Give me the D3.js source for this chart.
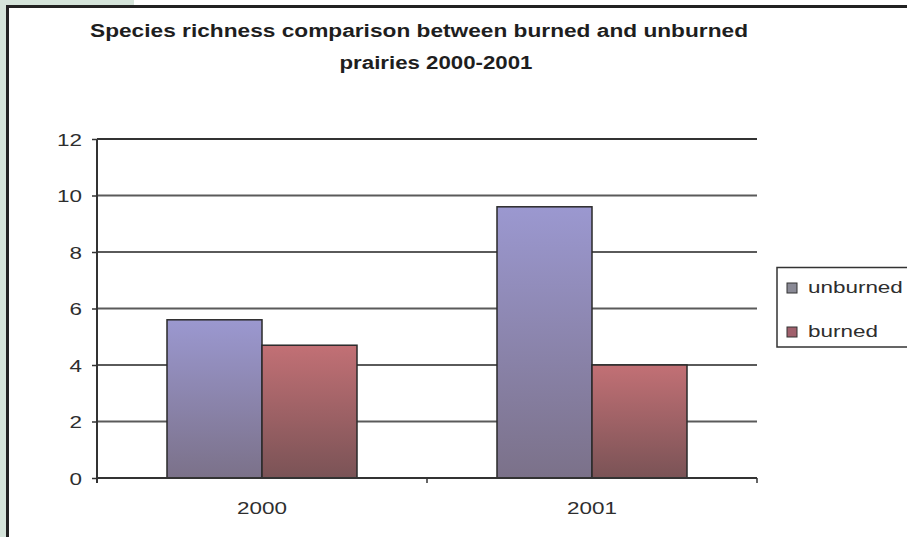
<!DOCTYPE html>
<html><head><meta charset="utf-8">
<script src="https://cdn.jsdelivr.net/npm/d3@7"></script>
<style>
html,body{margin:0;padding:0;background:#fff;}
svg{display:block;}
text{font-family:"Liberation Sans",Arial,sans-serif;}
</style></head>
<body>
<script>
const categories = ["2000", "2001"];
const seriesNames = ["unburned", "burned"];
const unburned = [5.6, 9.6];
const burned = [4.7, 4.0];
const yTicks = [0, 2, 4, 6, 8, 10, 12];
const titleLines = ["Species richness comparison between burned and unburned", "prairies 2000-2001"];

const W = 907, H = 537;
const svg = d3.select("body").append("svg").attr("width", W).attr("height", H);

// background frame
svg.append("rect").attr("x", 0).attr("y", 0).attr("width", 7).attr("height", H).attr("fill", "#d5e4da");
svg.append("rect").attr("x", 0).attr("y", 0).attr("width", 134).attr("height", 6).attr("fill", "#d5e4da");
svg.append("line").attr("x1", 7.5).attr("x2", 7.5).attr("y1", 6).attr("y2", H).attr("stroke", "#222").attr("stroke-width", 3);
svg.append("line").attr("x1", 6).attr("x2", W).attr("y1", 6.5).attr("y2", 6.5).attr("stroke", "#222").attr("stroke-width", 3);

const defs = svg.append("defs");
function grad(id, top, bottom) {
  const g = defs.append("linearGradient").attr("id", id).attr("x1", 0).attr("y1", 0).attr("x2", 0).attr("y2", 1);
  g.append("stop").attr("offset", "0%").attr("stop-color", top);
  g.append("stop").attr("offset", "100%").attr("stop-color", bottom);
}
grad("gU", "#9b98d0", "#7b7189");
grad("gB", "#c27075", "#7a5356");
const fills = {unburned: "url(#gU)", burned: "url(#gB)"};
const swatch = {unburned: "#8a8a96", burned: "#a0606c"};

function stretch(sel, f) {
  sel.each(function () {
    const w = this.getComputedTextLength();
    d3.select(this).attr("textLength", w * f).attr("lengthAdjust", "spacingAndGlyphs");
  });
}

// title
const tl = svg.append("g").attr("fill", "#1e1e1e").attr("font-weight", "bold").attr("font-size", 18).attr("text-anchor", "middle");
tl.append("text").attr("x", 419).attr("y", 37).text(titleLines[0]).attr("textLength", 658).attr("lengthAdjust", "spacingAndGlyphs");
tl.append("text").attr("x", 436).attr("y", 69).text(titleLines[1]).attr("textLength", 193).attr("lengthAdjust", "spacingAndGlyphs");

const L = 97, R = 757, T = 139, B = 478;
const x = d3.scaleBand().domain(categories).range([L, R]).paddingInner(0).paddingOuter(0);
const xs = d3.scaleBand().domain(seriesNames).range([70, x.bandwidth() - 70]);
const y = d3.scaleLinear().domain([0, 12]).range([B, T]);

// gridlines
svg.append("g").selectAll("line").data(yTicks.filter(d => d > 0)).join("line")
  .attr("x1", L).attr("x2", R).attr("y1", d => y(d)).attr("y2", d => y(d))
  .attr("stroke", d => d === 12 ? "#333" : "#5a5a5a").attr("stroke-width", 2);

// bars
const data = [];
categories.forEach((c, i) => {
  data.push({c, s: "unburned", v: unburned[i]});
  data.push({c, s: "burned", v: burned[i]});
});
svg.append("g").selectAll("rect").data(data).join("rect")
  .attr("x", d => x(d.c) + xs(d.s)).attr("width", xs.bandwidth())
  .attr("y", d => y(d.v)).attr("height", d => y(0) - y(d.v))
  .attr("fill", d => fills[d.s]).attr("stroke", "#2a2a2a").attr("stroke-width", 1.5);

// y axis
const yAxis = svg.append("g").attr("transform", `translate(${L},0)`)
  .call(d3.axisLeft(y).tickValues(yTicks).tickSize(5).tickPadding(10).tickFormat(d3.format("d")));
yAxis.select(".domain").attr("stroke", "#333").attr("stroke-width", 2).attr("d", `M0,${T}V${B + 5}`);
yAxis.selectAll(".tick line").attr("stroke", "#333").attr("stroke-width", 1.5);
yAxis.selectAll(".tick text").attr("font-size", 17).attr("fill", "#2e2e2e").attr("font-family", "Liberation Sans, Arial, sans-serif").attr("dy", "0.36em");
stretch(yAxis.selectAll(".tick text"), 1.32);

// x axis
const xAxis = svg.append("g").attr("transform", `translate(0,${B})`)
  .call(d3.axisBottom(x).tickSize(0).tickPadding(24));
xAxis.select(".domain").attr("stroke", "#333").attr("stroke-width", 2).attr("d", `M${L},0H${R}`);
xAxis.selectAll(".tick text").attr("font-size", 17).attr("fill", "#2e2e2e").attr("font-family", "Liberation Sans, Arial, sans-serif");
stretch(xAxis.selectAll(".tick text"), 1.32);
const bounds = [L, x(categories[1]), R];
xAxis.append("g").selectAll("line").data(bounds).join("line")
  .attr("x1", d => d).attr("x2", d => d).attr("y1", 0).attr("y2", 5)
  .attr("stroke", "#333").attr("stroke-width", 1.5);

// legend
const lg = svg.append("g");
lg.append("rect").attr("x", 777).attr("y", 267.5).attr("width", 140).attr("height", 79.5)
  .attr("fill", "#fff").attr("stroke", "#333").attr("stroke-width", 1.5);
const li = lg.selectAll("g.it").data(seriesNames).join("g").attr("class", "it")
  .attr("transform", (d, i) => `translate(787,${283 + i * 44})`);
li.append("rect").attr("width", 10).attr("height", 10).attr("fill", d => swatch[d]).attr("stroke", "#333").attr("stroke-width", 1);
li.append("text").attr("x", 21).attr("y", 10).attr("font-size", 17).attr("fill", "#2e2e2e").text(d => d);
stretch(li.selectAll("text"), 1.32);
</script>
</body></html>
